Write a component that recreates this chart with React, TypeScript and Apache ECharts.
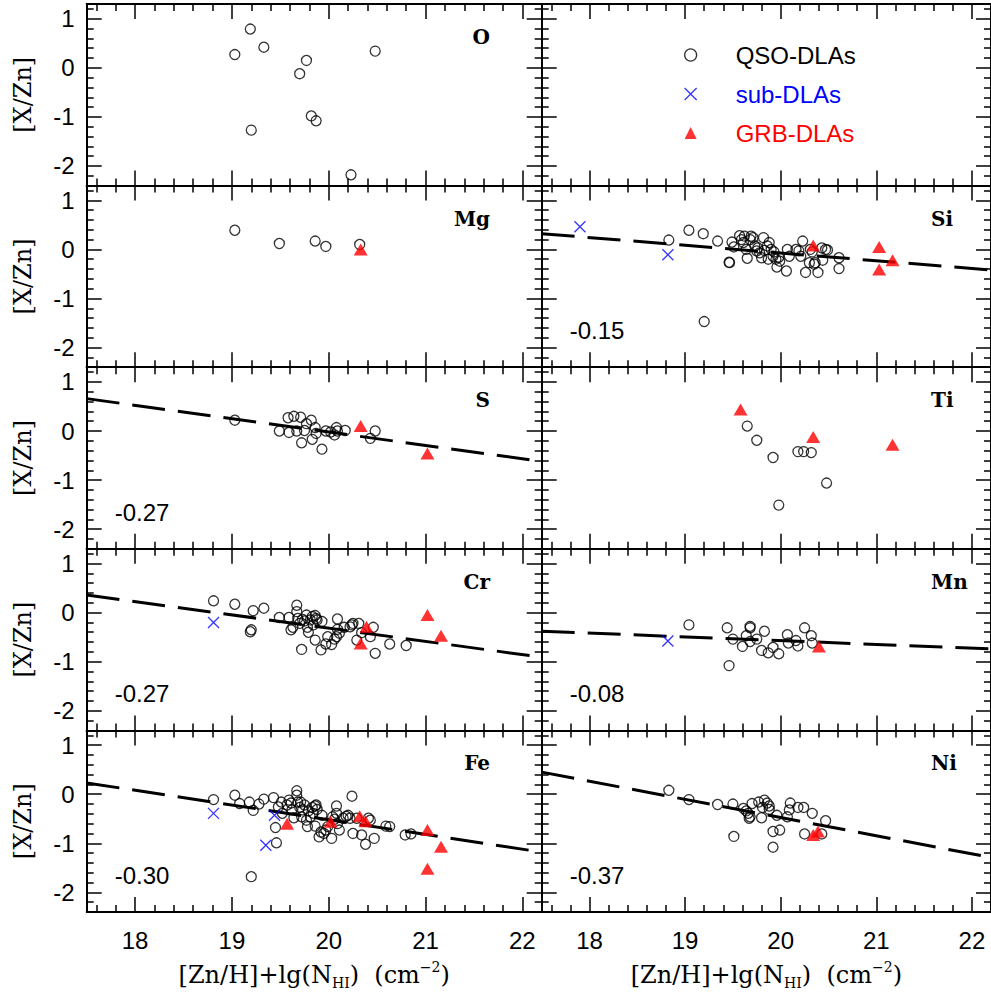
import React, { useEffect, useRef } from 'react';
import * as echarts from 'echarts';

// ---------- tick values ----------
const xMajorTicks = [18, 19, 20, 21, 22];
const yMajorTicks = [-2, -1, 0, 1];
const xMinorTicks: number[] = [];
for (let i = 176; i <= 222; i += 2) if (i % 10 !== 0) xMinorTicks.push(i / 10);
const yMinorTicks: number[] = [];
for (let i = -24; i <= 12; i += 2) if (i % 10 !== 0) yMinorTicks.push(i / 10);

// ---------- data: [ [Zn/H]+lg N(HI), [X/Zn] ] ----------
const oQso = [[19.03, 0.27], [19.19, 0.79], [19.33, 0.42], [19.2, -1.27], [19.7, -0.12], [19.77, 0.15], [19.82, -0.98], [19.87, -1.08], [20.23, -2.18], [20.48, 0.34]];

const mgQso = [[19.03, 0.39], [19.49, 0.12], [19.86, 0.17], [19.97, 0.06], [20.32, 0.1]];
const mgGrb = [[20.33, 0.0]];

const siQso = [[18.83, 0.19], [19.04, 0.39], [19.19, 0.32], [19.2, -1.47], [19.34, 0.17], [19.46, -0.26], [19.465, -0.27], [19.49, 0.15], [19.51, 0.05], [19.57, 0.28], [19.59, 0.2], [19.61, 0.14], [19.62, 0.27], [19.64, 0.0], [19.65, -0.18], [19.68, 0.2], [19.69, 0.27], [19.71, 0.24], [19.73, 0.07], [19.75, -0.03], [19.76, 0.03], [19.78, -0.07], [19.8, -0.17], [19.82, 0.24], [19.83, -0.02], [19.86, 0.07], [19.87, -0.2], [19.88, 0.14], [19.9, 0.0], [19.92, -0.14], [19.93, -0.05], [19.95, -0.2], [19.96, -0.36], [19.98, -0.16], [19.99, -0.24], [20.06, -0.44], [20.07, 0.0], [20.09, -0.14], [20.16, 0.0], [20.19, -0.03], [20.21, -0.14], [20.23, 0.17], [20.26, -0.47], [20.3, -0.27], [20.31, 0.0], [20.33, -0.05], [20.35, -0.3], [20.36, -0.27], [20.39, -0.47], [20.43, 0.03], [20.44, -0.22], [20.47, 0.0], [20.49, -0.01], [20.61, -0.17], [20.61, -0.39]];
const siSub = [[17.9, 0.46], [18.82, -0.11]];
const siGrb = [[20.34, 0.08], [21.03, 0.05], [21.03, -0.41], [21.17, -0.22]];
const siFit = [[17.5, 0.32], [22.2, -0.42]];

const sQso = [[19.03, 0.22], [19.49, 0.0], [19.58, 0.27], [19.59, -0.03], [19.64, 0.3], [19.67, 0.0], [19.71, 0.28], [19.72, -0.24], [19.75, 0.01], [19.77, 0.15], [19.82, 0.22], [19.83, -0.17], [19.86, 0.07], [19.87, -0.05], [19.93, -0.37], [19.97, 0.0], [20.02, -0.02], [20.06, -0.08], [20.08, 0.07], [20.09, 0.0], [20.17, 0.01], [20.43, -0.15], [20.48, 0.0]];
const sGrb = [[20.33, 0.1], [21.02, -0.46]];
const sFit = [[17.5, 0.66], [22.2, -0.62]];

const tiQso = [[19.65, 0.1], [19.75, -0.19], [19.92, -0.54], [19.98, -1.51], [20.18, -0.42], [20.24, -0.42], [20.32, -0.44], [20.48, -1.06]];
const tiGrb = [[19.58, 0.44], [20.34, -0.12], [21.17, -0.28]];

const crQso = [[18.81, 0.24], [19.03, 0.17], [19.22, 0.04], [19.33, 0.09], [19.19, -0.39], [19.2, -0.35], [19.49, -0.1], [19.59, -0.1], [19.61, -0.35], [19.63, -0.3], [19.67, 0.15], [19.67, 0.02], [19.68, -0.12], [19.7, -0.22], [19.72, -0.75], [19.73, -0.14], [19.75, -0.17], [19.77, -0.05], [19.78, -0.3], [19.79, -0.4], [19.81, -0.15], [19.83, -0.08], [19.84, -0.25], [19.86, -0.56], [19.86, -0.06], [19.87, -0.12], [19.88, -0.15], [19.92, -0.76], [19.93, -0.18], [19.97, -0.64], [19.99, -0.49], [20.03, -0.65], [20.06, -0.54], [20.08, -0.49], [20.09, -0.13], [20.09, -0.34], [20.11, -0.42], [20.16, -0.3], [20.22, -0.29], [20.24, -0.25], [20.25, -0.22], [20.29, -0.56], [20.31, -0.22], [20.34, -0.41], [20.43, -0.49], [20.46, -0.3], [20.48, -0.83], [20.63, -0.64], [20.8, -0.67]];
const crSub = [[18.81, -0.2]];
const crGrb = [[20.39, -0.29], [20.33, -0.63], [21.02, -0.05], [21.16, -0.47]];
const crFit = [[17.5, 0.36], [22.2, -0.91]];

const mnQso = [[19.04, -0.25], [19.44, -0.31], [19.46, -1.08], [19.5, -0.54], [19.6, -0.69], [19.64, -0.47], [19.68, -0.28], [19.68, -0.31], [19.68, -0.59], [19.75, -0.54], [19.8, -0.77], [19.83, -0.38], [19.87, -0.82], [19.92, -0.71], [19.98, -0.84], [20.07, -0.45], [20.08, -0.62], [20.16, -0.57], [20.18, -0.68], [20.25, -0.31], [20.32, -0.47], [20.33, -0.62]];
const mnSub = [[18.82, -0.58]];
const mnGrb = [[20.4, -0.69]];
const mnFit = [[17.5, -0.38], [22.2, -0.74]];

const feQso = [[18.81, -0.11], [19.03, -0.02], [19.08, -0.19], [19.18, -0.16], [19.22, -0.33], [19.28, -0.2], [19.33, -0.1], [19.43, -0.07], [19.45, -0.68], [19.46, -0.99], [19.2, -1.68], [19.48, -0.26], [19.51, -0.16], [19.52, -0.39], [19.57, -0.22], [19.59, -0.12], [19.61, -0.18], [19.62, -0.32], [19.64, -0.48], [19.67, 0.07], [19.67, -0.02], [19.68, -0.16], [19.7, -0.27], [19.71, -0.16], [19.72, -0.46], [19.73, -0.32], [19.75, -0.22], [19.77, -0.53], [19.78, -0.66], [19.79, -0.34], [19.81, -0.46], [19.83, -0.27], [19.84, -0.39], [19.86, -0.24], [19.86, -0.65], [19.87, -0.22], [19.88, -0.31], [19.9, -0.87], [19.92, -0.77], [19.93, -0.43], [19.95, -0.8], [19.97, -0.73], [19.99, -0.66], [20.03, -0.9], [20.04, -0.46], [20.06, -0.51], [20.08, -0.39], [20.08, -0.24], [20.09, -0.6], [20.11, -0.73], [20.15, -0.49], [20.18, -0.45], [20.2, -0.43], [20.22, -0.49], [20.24, -0.04], [20.25, -0.8], [20.29, -0.49], [20.34, -0.83], [20.38, -1.02], [20.41, -0.49], [20.43, -0.53], [20.47, -0.9], [20.59, -0.65], [20.63, -0.66], [20.79, -0.83], [20.85, -0.81]];
const feSub = [[18.81, -0.39], [19.44, -0.43], [19.35, -1.04]];
const feGrb = [[19.57, -0.6], [20.02, -0.56], [20.32, -0.45], [20.38, -0.55], [21.02, -0.73], [21.16, -1.07], [21.02, -1.52]];
const feFit = [[17.5, 0.23], [22.2, -1.18]];

const niQso = [[18.83, 0.08], [19.04, -0.11], [19.34, -0.21], [19.5, -0.2], [19.51, -0.86], [19.61, -0.29], [19.64, -0.34], [19.66, -0.39], [19.67, -0.49], [19.68, -0.46], [19.7, -0.19], [19.77, -0.16], [19.8, -0.48], [19.81, -0.27], [19.83, -0.12], [19.86, -0.18], [19.88, -0.24], [19.88, -0.31], [19.92, -0.76], [19.92, -1.08], [19.96, -0.43], [19.99, -0.73], [20.07, -0.46], [20.09, -0.32], [20.1, -0.18], [20.18, -0.27], [20.24, -0.27], [20.25, -0.81], [20.33, -0.39], [20.43, -0.81], [20.47, -0.54]];
const niGrb = [[20.34, -0.83], [20.39, -0.76]];
const niFit = [[17.5, 0.45], [22.2, -1.29]];

const legendNames = ['QSO-DLAs', 'sub-DLAs', 'GRB-DLAs'];
const legendColors = ['#000000', '#0000ff', '#ff0000'];

type Panel = { el: string; qso: number[][]; sub: number[][]; grb: number[][]; fit: number[][] | null; slope: string };
const panels: (Panel | null)[] = [
  { el: 'O', qso: oQso, sub: [], grb: [], fit: null, slope: '' },
  null,
  { el: 'Mg', qso: mgQso, sub: [], grb: mgGrb, fit: null, slope: '' },
  { el: 'Si', qso: siQso, sub: siSub, grb: siGrb, fit: siFit, slope: '-0.15' },
  { el: 'S', qso: sQso, sub: [], grb: sGrb, fit: sFit, slope: '-0.27' },
  { el: 'Ti', qso: tiQso, sub: [], grb: tiGrb, fit: null, slope: '' },
  { el: 'Cr', qso: crQso, sub: crSub, grb: crGrb, fit: crFit, slope: '-0.27' },
  { el: 'Mn', qso: mnQso, sub: mnSub, grb: mnGrb, fit: mnFit, slope: '-0.08' },
  { el: 'Fe', qso: feQso, sub: feSub, grb: feGrb, fit: feFit, slope: '-0.30' },
  { el: 'Ni', qso: niQso, sub: [], grb: niGrb, fit: niFit, slope: '-0.37' },
];

// ---------- layout ----------
const SANS = "'Liberation Sans', Arial, sans-serif";
const SERIF = "'DejaVu Serif', serif";
const GL = [86.7, 541.7];
const GW = 455;
const GT0 = 4;
const GH = 181.6;
const X_MIN = 17.5, X_MAX = 22.2, Y_MIN = -2.4, Y_MAX = 1.3;
const CROSS = 'path://M0 0L10 10M10 0L0 10';

function buildOption() {
  const grid: any[] = [];
  const xAxis: any[] = [];
  const yAxis: any[] = [];
  const series: any[] = [];
  const graphic: any[] = [];

  for (let g = 0; g < 10; g++) {
    const row = Math.floor(g / 2);
    const col = g % 2;
    const top = GT0 + row * GH;
    grid.push({ left: GL[col], top, width: GW, height: GH });
    const bottomRow = row === 4;
    const leftCol = col === 0;

    const mkX = (pos: string, major: boolean, label: boolean, named: boolean) => ({
      gridIndex: g, type: 'value', min: X_MIN, max: X_MAX, position: pos,
      axisLine: { show: major, onZero: false, lineStyle: { color: '#000', width: 2 } },
      axisTick: { show: true, inside: true, length: major ? 15 : 7, customValues: major ? xMajorTicks : xMinorTicks, lineStyle: { color: '#000', width: 1.5 } },
      axisLabel: { show: label, customValues: xMajorTicks, fontSize: 24, fontFamily: SANS, color: '#000', margin: 16 },
      splitLine: { show: false },
      ...(named ? {
        name: '[Zn/H]+lg(N{sub|HI})  (cm{sup|−2})',
        nameLocation: 'middle', nameGap: 48,
        nameTextStyle: {
          fontFamily: SERIF, fontSize: 24, color: '#000', lineHeight: 30,
          rich: {
            sub: { fontFamily: SERIF, fontSize: 14, lineHeight: 14, verticalAlign: 'bottom', color: '#000' },
            sup: { fontFamily: SERIF, fontSize: 14, lineHeight: 14, verticalAlign: 'top', color: '#000' },
          },
        },
      } : {}),
    });
    const mkY = (pos: string, major: boolean, label: boolean, named: boolean) => ({
      gridIndex: g, type: 'value', min: Y_MIN, max: Y_MAX, position: pos,
      axisLine: { show: major, onZero: false, lineStyle: { color: '#000', width: 2 } },
      axisTick: { show: true, inside: true, length: major ? 15 : 7, customValues: major ? yMajorTicks : yMinorTicks, lineStyle: { color: '#000', width: 1.5 } },
      axisLabel: { show: label, customValues: yMajorTicks, fontSize: 24, fontFamily: SANS, color: '#000', margin: 12 },
      splitLine: { show: false },
      ...(named ? {
        name: '[X/Zn]', nameLocation: 'middle', nameGap: 52, nameRotate: 90,
        nameTextStyle: { fontFamily: SERIF, fontSize: 24, color: '#000' },
      } : {}),
    });
    xAxis.push(mkX('bottom', true, bottomRow, bottomRow));
    xAxis.push(mkX('top', true, false, false));
    xAxis.push(mkX('bottom', false, false, false));
    xAxis.push(mkX('top', false, false, false));
    yAxis.push(mkY('left', true, leftCol, leftCol));
    yAxis.push(mkY('right', true, false, false));
    yAxis.push(mkY('left', false, false, false));
    yAxis.push(mkY('right', false, false, false));

    const p = panels[g];
    const ax = { xAxisIndex: 4 * g, yAxisIndex: 4 * g };
    if (p) {
      if (p.fit) {
        series.push({ type: 'line', ...ax, data: p.fit, symbol: 'none', silent: true, z: 1,
          lineStyle: { color: '#000', width: 3, type: [33, 13] } });
      }
      series.push({ type: 'scatter', name: 'QSO-DLAs', ...ax, data: p.qso, symbol: 'circle', symbolSize: 10, z: 3, silent: true,
        itemStyle: { color: 'rgba(0,0,0,0)', borderColor: '#000', borderWidth: 1.3 } });
      series.push({ type: 'scatter', name: 'sub-DLAs', ...ax, data: p.sub, symbol: CROSS, symbolSize: 11, z: 4, silent: true,
        itemStyle: { color: 'rgba(0,0,0,0)', borderColor: '#0000ff', borderWidth: 1.3 } });
      series.push({ type: 'scatter', name: 'GRB-DLAs', ...ax, data: p.grb, symbol: 'triangle', symbolSize: [14, 12], z: 5, silent: true,
        itemStyle: { color: '#ff0000' } });

      graphic.push({
        type: 'text', x: leftCol ? 490 : 931, y: top + 33,
        style: { text: p.el, fill: '#000', fontFamily: SERIF, fontWeight: 'bold', fontSize: 20,
          align: leftCol ? 'right' : 'left', verticalAlign: 'middle' },
      });
      if (p.slope) {
        graphic.push({
          type: 'text', x: GL[col] + 28, y: top + 145,
          style: { text: p.slope, fill: '#000', fontFamily: SANS, fontSize: 24, align: 'left', verticalAlign: 'middle' },
        });
      }
    }
  }

  return {
    animation: false,
    backgroundColor: '#ffffff',
    grid, xAxis, yAxis, series, graphic,
    legend: {
      orient: 'vertical', left: 679, top: 37, itemWidth: 12, itemHeight: 12, itemGap: 13,
      selectedMode: false,
      itemStyle: { borderWidth: 1.3 },
      textStyle: { fontSize: 24, fontFamily: SANS, lineHeight: 26, padding: [0, 0, 0, 34] },
      data: legendNames.map((n, i) => ({ name: n, textStyle: { color: legendColors[i] } })),
    },
  };
}

export default function App() {
  const ref = useRef<HTMLDivElement>(null);
  useEffect(() => {
    if (!ref.current) return;
    const chart = echarts.init(ref.current, undefined, { renderer: 'svg' });
    chart.setOption(buildOption() as any);
    return () => chart.dispose();
  }, []);
  return <div ref={ref} style={{ position: 'absolute', left: 0, top: 0, width: 991, height: 998, background: '#fff' }} />;
}
